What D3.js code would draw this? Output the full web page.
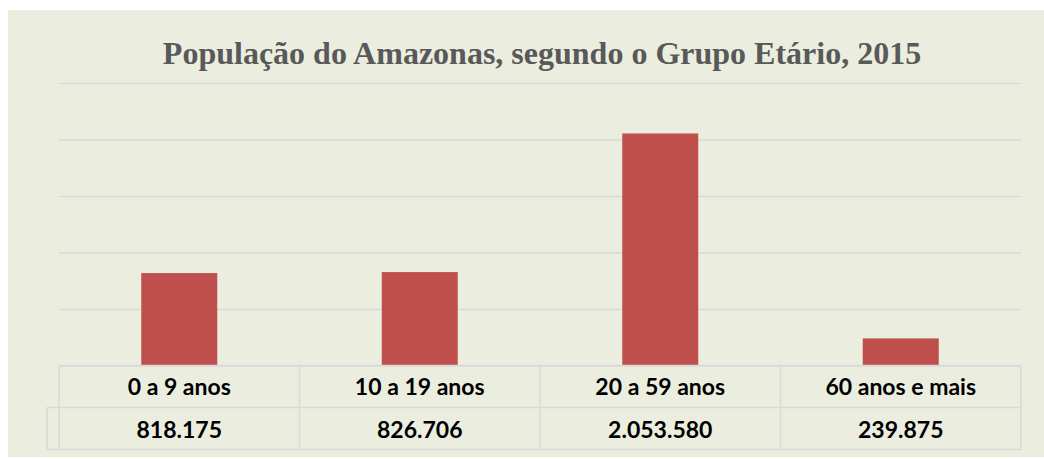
<!DOCTYPE html>
<html>
<head>
<meta charset="utf-8">
<script src="https://cdn.jsdelivr.net/npm/d3@7"></script>
<style>
  body { margin: 0; background: #ffffff; }
  svg { display: block; }
</style>
</head>
<body>
<div id="chart"></div>
<script>
// age groups and population, Amazonas 2015
var groups = ["0 a 9 anos", "10 a 19 anos", "20 a 59 anos", "60 anos e mais"]
var population = [818175, 826706, 2053580, 239875]
var yTicks = [0, 500000, 1000000, 1500000, 2000000, 2500000]

var barColor = "#C0504D"
var gridColor = "#D9D9D9"

var W = 1044, H = 459
var plotL = 59, plotR = 1021, plotT = 83, plotB = 365.5
var rowH = 42

var ptBR = d3.formatLocale({ decimal: ",", thousands: ".", grouping: [3], currency: ["R$", ""] })
var fmt = ptBR.format(",d")

var svg = d3.select("#chart").append("svg").attr("width", W).attr("height", H)

// panel background
svg.append("rect")
  .attr("x", 8).attr("y", 10)
  .attr("width", W - 8).attr("height", 447)
  .style("fill", "#EBEEDF")

svg.append("text")
  .attr("x", 542)
  .attr("y", 64)
  .style("text-anchor", "middle")
  .style("font-family", "'Liberation Serif', 'Times New Roman', serif")
  .style("font-weight", "bold")
  .style("font-size", "32px")
  .style("fill", "#595959")
  .text("População do Amazonas, segundo o Grupo Etário, 2015")

var y = d3.scaleLinear().domain([0, 2500000]).range([plotB, plotT])

var cols = d3.scaleBand().domain(groups).range([plotL, plotR]).padding(0)
var x = d3.scaleBand().domain(groups).range([plotL, plotR]).paddingInner(0.684).paddingOuter(0.342)

// gridlines
var grid = svg.append("g")
  .attr("transform", "translate(" + plotL + ",0)")
  .call(d3.axisLeft(y).tickValues(yTicks).tickSize(-(plotR - plotL)).tickFormat(""))
grid.select(".domain").remove()
grid.selectAll("line").style("stroke", gridColor).style("stroke-width", 1.5)

svg.selectAll(".bar")
  .data(population)
  .enter().append("rect")
  .attr("class", "bar")
  .attr("x", function (d, i) { return x(groups[i]) })
  .attr("y", function (d) { return y(d) })
  .attr("width", x.bandwidth())
  .attr("height", function (d) { return y(0) - y(d) })
  .style("fill", barColor)

// data table under the axis
var tbl = svg.append("g").style("stroke", gridColor).style("stroke-width", 1.5)
var r0 = plotB, r1 = plotB + rowH, r2 = plotB + 2 * rowH
tbl.append("line").attr("x1", plotL).attr("x2", plotR).attr("y1", r0).attr("y2", r0)
tbl.append("line").attr("x1", plotL - 12).attr("x2", plotR).attr("y1", r1).attr("y2", r1)
tbl.append("line").attr("x1", plotL - 12).attr("x2", plotR).attr("y1", r2).attr("y2", r2)
tbl.append("line").attr("x1", plotL - 12).attr("x2", plotL - 12).attr("y1", r1).attr("y2", r2)
groups.concat([null]).forEach(function (g) {
  var xx = g === null ? plotR : cols(g)
  tbl.append("line").attr("x1", xx).attr("x2", xx).attr("y1", r0).attr("y2", r2)
})

function cellStyle(sel) {
  sel.style("text-anchor", "middle")
    .style("font-family", "Lato, 'Open Sans', sans-serif")
    .style("font-weight", "bold")
    .style("font-size", "23px")
    .style("fill", "#000")
}

svg.selectAll(".cat")
  .data(groups)
  .enter().append("text")
  .attr("class", "cat")
  .attr("x", function (d) { return cols(d) + cols.bandwidth() / 2 })
  .attr("y", r0 + 29)
  .call(cellStyle)
  .text(function (d) { return d })

svg.selectAll(".val")
  .data(population)
  .enter().append("text")
  .attr("class", "val")
  .attr("x", function (d, i) { return cols(groups[i]) + cols.bandwidth() / 2 })
  .attr("y", r1 + 30)
  .call(cellStyle)
  .text(function (d) { return fmt(d) })
</script>
</body>
</html>
